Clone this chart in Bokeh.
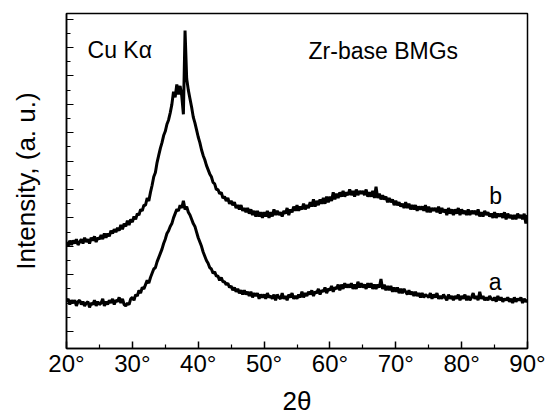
import numpy as np
from bokeh.plotting import figure
from bokeh.models import FixedTicker, Range1d, ColumnDataSource
from bokeh.core.properties import value
from bokeh.embed import file_html
from bokeh.resources import INLINE

# 2-theta sampling grid (degrees), 0.25 deg steps
two_theta = np.arange(20.0, 90.001, 0.25)

# pattern a (lower curve) (one row per degree)
intensity_a = [
    2.1, 2.3, 1.9, 2.2,  2.0, 2.2, 1.8, 2.1,  2.2, 1.9, 2.1, 1.8,
    2.0, 2.1, 1.7, 2.0,  1.9, 2.2, 1.8, 2.1,  1.9, 2.0, 2.3, 1.8,
    2.1, 1.9, 2.2, 2.0,  2.3, 1.9, 2.2, 2.1,  2.4, 2.0, 2.3, 1.9,
    1.8, 2.0, 1.9, 2.3,  2.4, 2.2, 2.6, 2.5,  2.9, 2.7, 3.1, 3.0,
    3.3, 3.6, 3.4, 3.8,  4.1, 4.4, 4.5, 4.9,  5.2, 5.5, 5.8, 6.2,
    6.5, 6.9, 7.1, 7.4,  7.6, 8.0, 8.3, 8.6,  8.5, 8.9, 8.7, 9.2,
    8.6, 8.8, 8.4, 8.2,  7.9, 7.6, 7.4, 7.0,  6.6, 6.3, 6.0, 5.6,
    5.3, 5.0, 4.8, 4.5,  4.4, 4.1, 4.2, 3.9,  3.9, 3.6, 3.8, 3.5,
    3.5, 3.3, 3.4, 3.1,  3.2, 2.9, 3.1, 2.8,  3.0, 2.7, 2.9, 2.6,
    2.9, 2.6, 2.8, 2.5,  2.8, 2.4, 2.7, 2.5,  2.7, 2.3, 2.6, 2.4,
    2.6, 2.3, 2.7, 2.4,  2.5, 2.3, 2.6, 2.2,  2.6, 2.4, 2.3, 2.7,
    2.3, 2.5, 2.2, 2.6,  2.4, 2.7, 2.3, 2.5,  2.3, 2.6, 2.4, 2.8,
    2.4, 2.7, 2.5, 2.8,  2.6, 2.9, 2.5, 2.8,  2.7, 3.0, 2.6, 2.9,
    2.8, 3.1, 2.7, 3.0,  2.9, 3.2, 2.8, 3.1,  3.0, 3.3, 2.9, 3.3,
    3.0, 3.4, 3.1, 3.3,  3.1, 3.4, 3.0, 3.3,  3.0, 3.5, 3.1, 3.4,
    3.1, 3.3, 3.0, 3.4,  3.1, 3.4, 3.0, 3.3,  3.0, 3.3, 3.1, 3.7,
    3.0, 3.3, 2.9, 3.2,  2.9, 3.2, 2.8, 3.1,  2.8, 3.1, 2.7, 3.0,
    2.7, 3.0, 2.8, 2.6,  2.9, 2.6, 2.8, 2.5,  2.8, 2.5, 2.7, 2.4,
    2.7, 2.4, 2.6, 2.5,  2.4, 2.7, 2.3, 2.6,  2.4, 2.7, 2.3, 2.5,
    2.3, 2.6, 2.4, 2.2,  2.6, 2.3, 2.5, 2.2,  2.5, 2.3, 2.6, 2.2,
    2.5, 2.3, 2.6, 2.2,  2.5, 2.2, 2.4, 2.7,  2.3, 2.5, 2.2, 2.8,
    2.3, 2.5, 2.2, 2.4,  2.2, 2.5, 2.3, 2.2,  2.4, 2.1, 2.5, 2.2,
    2.4, 2.1, 2.3, 2.2,  2.4, 2.1, 2.3, 2.0,  2.4, 2.1, 2.3, 2.2,
    2.4, 2.0, 2.3, 2.1,
    2.2,
]

# pattern b (upper curve) (one row per degree)
intensity_b = [
    6.3, 6.0, 6.4, 6.1,  6.4, 6.2, 6.5, 6.1,  6.3, 6.5, 6.2, 6.6,
    6.3, 6.5, 6.2, 6.6,  6.4, 6.7, 6.3, 6.6,  6.5, 6.8, 6.5, 6.9,
    6.6, 6.9, 6.7, 7.1,  6.9, 7.2, 7.0, 7.3,  7.1, 7.5, 7.2, 7.6,
    7.4, 7.8, 7.5, 7.9,  7.7, 8.1, 7.9, 8.3,  8.2, 8.6, 8.5, 8.9,
    8.9, 9.4, 9.2, 9.8,  10.3, 10.9, 11.2, 11.9,  12.4, 12.9, 13.3, 13.8,
    14.1, 14.6, 14.9, 15.4,  16.0, 16.9, 16.5, 17.4,  16.7, 17.3, 16.6, 15.3,
    21.2, 17.8, 17.0, 16.4,  15.8, 15.1, 14.7, 14.2,  13.7, 13.3, 12.8, 12.4,
    12.1, 11.7, 11.4, 11.1,  10.9, 10.5, 10.4, 10.0,  10.0, 9.7, 9.8, 9.4,
    9.5, 9.2, 9.4, 9.0,  9.2, 8.9, 9.1, 8.7,  8.9, 8.6, 8.9, 8.5,
    8.7, 8.4, 8.7, 8.3,  8.6, 8.2, 8.5, 8.1,  8.5, 8.1, 8.4, 8.0,
    8.4, 8.1, 8.5, 8.0,  8.4, 8.1, 8.6, 8.2,  8.5, 8.2, 8.4, 8.1,
    8.5, 8.3, 8.7, 8.2,  8.6, 8.4, 8.8, 8.5,  8.9, 8.5, 8.8, 8.6,
    9.0, 8.6, 8.9, 8.7,  9.1, 8.8, 9.3, 8.8,  9.2, 8.9, 9.3, 9.0,
    9.4, 9.0, 9.5, 9.1,  9.5, 9.2, 9.8, 9.3,  9.7, 9.4, 9.8, 9.5,
    9.9, 9.5, 9.8, 9.6,  10.0, 9.6, 9.9, 9.5,  10.0, 9.6, 9.9, 9.7,
    9.9, 9.6, 10.0, 9.5,  9.8, 9.5, 9.9, 9.4,  10.2, 9.4, 9.7, 9.3,
    9.6, 9.3, 9.5, 9.1,  9.4, 9.1, 9.3, 8.9,  9.2, 8.9, 9.1, 8.8,
    9.0, 8.7, 9.1, 8.7,  9.0, 8.6, 8.9, 8.6,  8.9, 8.5, 8.8, 8.6,
    8.8, 8.5, 8.9, 8.4,  8.8, 8.4, 8.7, 8.5,  8.7, 8.4, 8.8, 8.3,
    8.7, 8.4, 8.6, 8.2,  8.7, 8.3, 8.6, 8.2,  8.6, 8.3, 8.7, 8.2,
    8.6, 8.3, 8.5, 8.2,  8.6, 8.2, 8.5, 8.3,  8.5, 8.2, 8.6, 8.1,
    8.4, 8.1, 8.5, 8.2,  8.4, 8.1, 8.3, 8.0,  8.4, 8.0, 8.3, 8.1,
    8.3, 8.0, 8.4, 7.9,  8.3, 8.0, 8.2, 7.9,  8.2, 7.9, 8.3, 8.0,
    8.2, 7.9, 8.3, 7.6,
    8.2,
]

x_ticks = [20, 30, 40, 50, 60, 70, 80, 90]
x_minor = [25, 35, 45, 55, 65, 75, 85]
x_tick_labels = ["20°", "30°", "40°", "50°", "60°", "70°", "80°", "90°"]
y_major = [0, 2, 4, 6, 8, 10, 12, 14, 16, 18, 20, 22]
y_minor = list(range(0, 23))

FONT = "Liberation Sans"

p = figure(width=556, height=418, output_backend="svg", toolbar_location=None,
           x_range=Range1d(20, 90), y_range=Range1d(-1.2, 22.4),
           min_border_left=66, min_border_right=29, min_border_top=13,
           min_border_bottom=68)
p.background_fill_color = "white"
p.border_fill_color = "white"
p.outline_line_color = "black"
p.outline_line_width = 1.5
p.grid.visible = False

src = ColumnDataSource(dict(x=two_theta, a=intensity_a, b=intensity_b))
p.line("x", "a", source=src, line_color="black", line_width=3.0)
p.line("x", "b", source=src, line_color="black", line_width=3.0)

# x axis
xa = p.xaxis[0]
xa.ticker = FixedTicker(ticks=x_ticks, minor_ticks=x_minor)
xa.major_label_overrides = {t: l for t, l in zip(x_ticks, x_tick_labels)}
xa.major_tick_in = 7
xa.major_tick_out = 0
xa.minor_tick_in = 4
xa.minor_tick_out = 0
xa.axis_line_width = 1.5
xa.major_tick_line_width = 1.5
xa.minor_tick_line_width = 1.2
xa.major_label_text_font = FONT
xa.major_label_text_font_size = "24px"
xa.major_label_text_color = "black"
xa.major_label_standoff = 1
xa.axis_label = "2θ"
xa.axis_label_text_font = FONT
xa.axis_label_text_font_style = "normal"
xa.axis_label_text_font_size = "26px"
xa.axis_label_text_color = "black"
xa.axis_label_standoff = 6

# y axis
ya = p.yaxis[0]
ya.ticker = FixedTicker(ticks=y_major, minor_ticks=y_minor)
ya.major_label_overrides = {t: "" for t in y_major}
ya.major_label_text_font_size = "1px"
ya.major_tick_in = 7
ya.major_tick_out = 0
ya.minor_tick_in = 4
ya.minor_tick_out = 0
ya.axis_line_width = 1.5
ya.major_tick_line_width = 1.2
ya.minor_tick_line_width = 1.2
ya.axis_label = "Intensity, (a. u.)"
ya.axis_label_text_font = FONT
ya.axis_label_text_font_style = "normal"
ya.axis_label_text_font_size = "26px"
ya.axis_label_text_color = "black"
ya.axis_label_standoff = 26

# annotations in data coordinates
p.text(x=[23.2], y=[19.83], text=["Cu Kα"], text_font=value(FONT),
       text_font_size="23px", text_baseline="alphabetic", text_color="black")
p.text(x=[56.75], y=[19.76], text=["Zr-base BMGs"], text_font=value(FONT),
       text_font_size="23px", text_baseline="alphabetic", text_color="black")
p.text(x=[84.2], y=[9.53], text=["b"], text_font=value(FONT),
       text_font_size="23px", text_baseline="alphabetic", text_color="black")
p.text(x=[84.1], y=[3.5], text=["a"], text_font=value(FONT),
       text_font_size="23px", text_baseline="alphabetic", text_color="black")

open("out.html", "w").write(file_html(p, INLINE))
